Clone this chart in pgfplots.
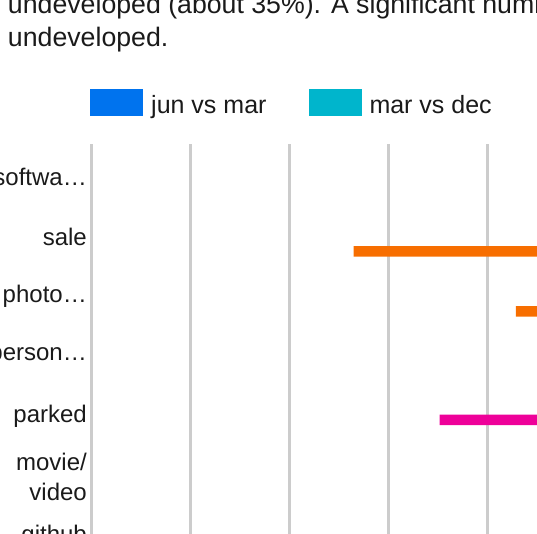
\documentclass[border=0pt]{standalone}
\usepackage{fontspec}
\setmainfont{Liberation Sans}
\usepackage{pgfplots}
\usepackage{pgfplotstable}
\pgfplotsset{compat=1.18}
\definecolor{cBlue}{HTML}{0073EE}
\definecolor{cCyan}{HTML}{00B5CC}
\definecolor{cOrange}{HTML}{F76E00}
\definecolor{cMagenta}{HTML}{EE0099}
\definecolor{cGrid}{HTML}{CCCCCC}
\definecolor{cText}{HTML}{1A1A1A}

\pgfplotstableread{
y jm md ma mo
6 0 0 0 0
5 0 0 0 -23.5
4 0 0 0 -7.1
3 0 0 0 0
2 0 0 -14.8 0
1 0 0 0 0
0 0 0 0 0
}\data

\begin{document}
\begin{tikzpicture}
\path[use as bounding box] (0,0) rectangle (537pt,-533pt);
\clip (0,0) rectangle (537pt,-533pt);
\node[anchor=base west, font=\fontsize{26.7}{32}\selectfont, text=cText, inner sep=0pt] at (7.8pt,-13.7pt) {undeveloped (about 35\%). A significant number of};
\node[anchor=base west, font=\fontsize{26.7}{32}\selectfont, text=cText, inner sep=0pt] at (7.8pt,-46.2pt) {undeveloped.};
\begin{axis}[
  at={(91.5pt,-144pt)}, anchor=north west,
  scale only axis, width=593.4pt, height=420pt,
  xmin=-50, xmax=10, ymin=-0.5, ymax=6.5,
  xbar, bar width=10.5pt,
  axis line style={draw=none},
  xtick={-50,-40,...,10}, xticklabels={},
  xmajorgrids, ymajorgrids=false,
  major grid style={cGrid, line width=2.8pt},
  major tick length=0pt,
  ytick={0,...,6},
  yticklabels={github, {movie/\\video}, parked, person…, photo…, sale, softwa…},
  yticklabel style={font=\fontsize{24}{30}\selectfont, text=cText, align=right, inner xsep=0pt, xshift=-4.5pt, yshift=-2.5pt},
  legend columns=-1,
  legend style={at={(axis description cs:0,1)}, anchor=north west, xshift=-1.5pt, yshift=55.7pt, draw=none, fill=none, inner sep=0pt, font=\fontsize{25}{30}\selectfont, text=cText, /tikz/every even column/.append style={column sep=34pt}, nodes={inner xsep=8pt, inner ysep=0pt}},
  legend image code/.code={\fill[#1] (0pt,-10.5pt) rectangle (53pt,16.5pt);},
]
\addplot[fill=cBlue, draw=none, bar shift=17.25pt] table[x=jm,y=y]{\data};
\addlegendentry{jun vs mar}
\addplot[fill=cCyan, draw=none, bar shift=5.75pt] table[x=md,y=y]{\data};
\addlegendentry{mar vs dec}
\addplot[fill=cMagenta, draw=none, bar shift=-5.75pt, forget plot] table[x=ma,y=y]{\data};
\addplot[fill=cOrange, draw=none, bar shift=-17.25pt, forget plot] table[x=mo,y=y]{\data};
\end{axis}
\end{tikzpicture}
\end{document}
